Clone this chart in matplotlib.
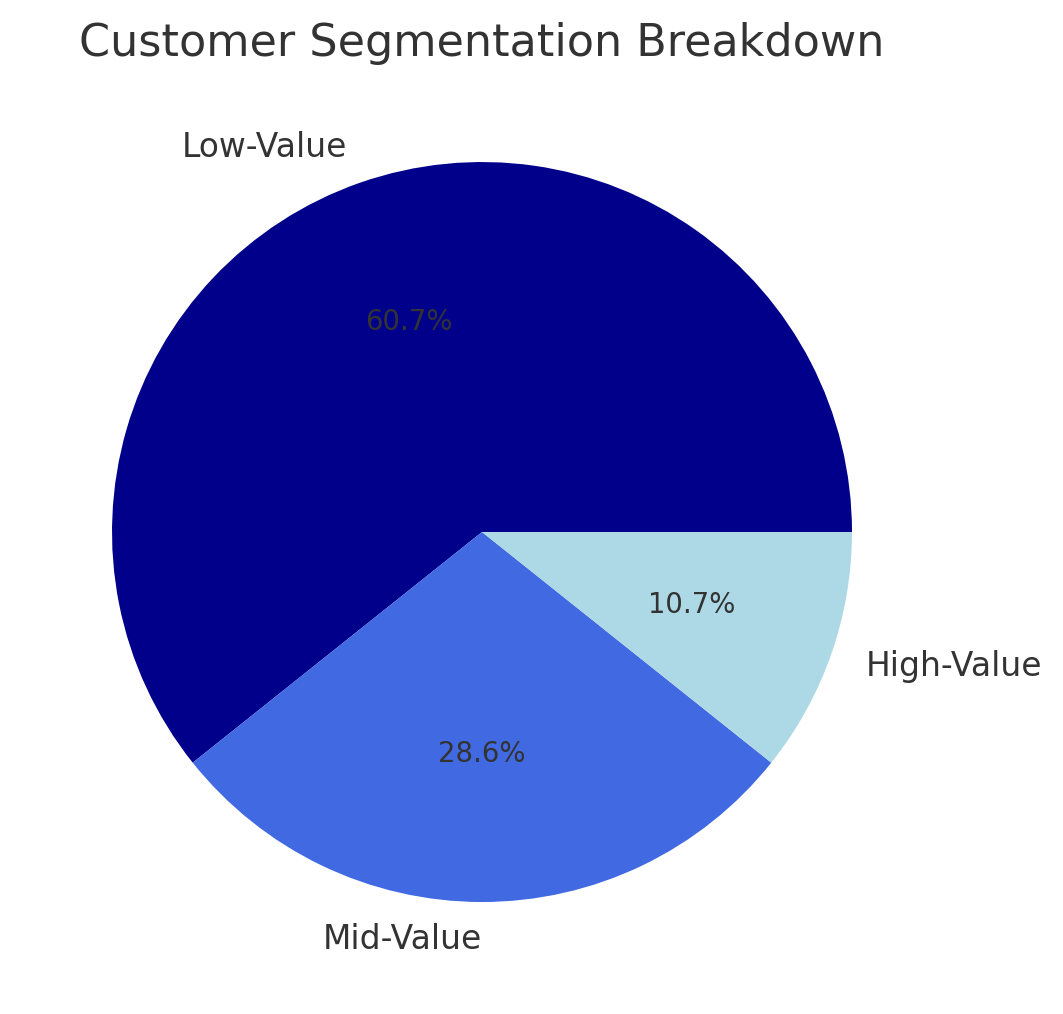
import matplotlib
matplotlib.use("Agg")
import matplotlib.pyplot as plt

segments = ["Low-Value", "Mid-Value", "High-Value"]
counts = [17, 8, 3]
colors = ["#00008B", "#4169E1", "#ADD8E6"]

plt.rcParams['text.color'] = '#333333'

dpi = 160
fig = plt.figure(figsize=(1063 / dpi, 1014 / dpi), dpi=dpi)
ax = fig.add_axes([0.01834, 0.01923, 0.8702, 0.9122])
wedges, labels, pcts = ax.pie(counts, labels=segments, colors=colors, autopct='%1.1f%%',
                              labeldistance=1.1, pctdistance=0.6)
for t in labels:
    t.set_fontsize(14.8)
for t in pcts:
    t.set_fontsize(12.4)
# the mid label sits right at 270 deg, reference has it right-aligned
labels[1].set_horizontalalignment('right')
ax.set_title("Customer Segmentation Breakdown", fontsize=20)

fig.savefig("out.png", dpi=dpi)
